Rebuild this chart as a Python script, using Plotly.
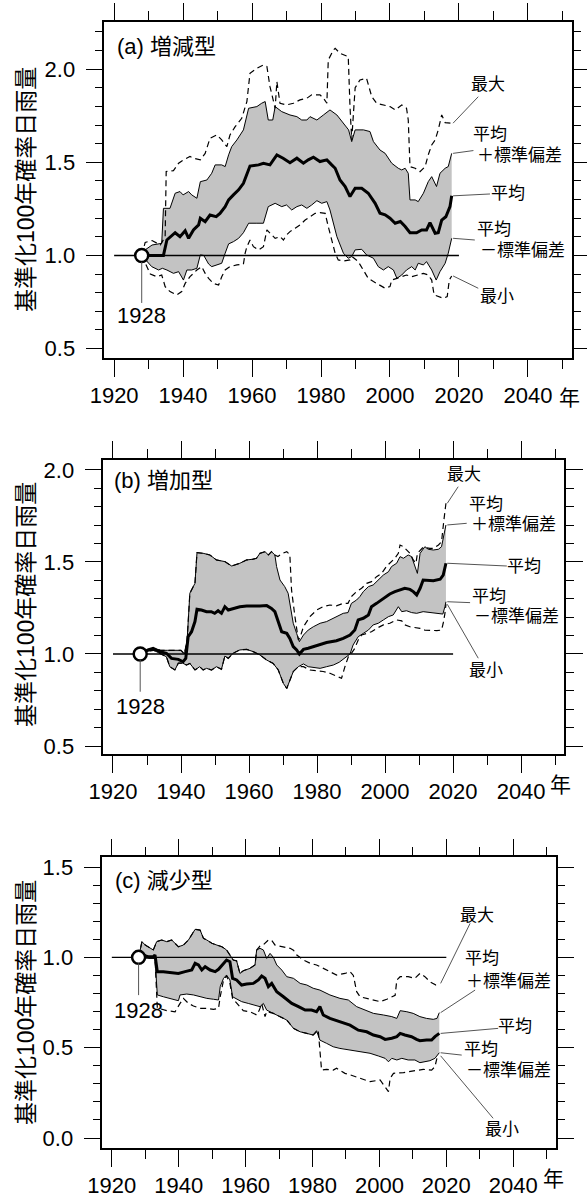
import plotly.graph_objects as go

W, H = 587, 1198

# ---------------- data (year, value) ----------------
BASE_YEAR = 1928
REF_LEVEL = 1.0
REF_SPAN = [1920, 2020]

A_MEAN = [(1928,1.0),(1934.3,1.0),(1935.3,1.083),(1937.7,1.122),(1939.1,1.101),(1940.6,1.133),(1941.6,1.092),(1943,1.137),(1944.5,1.164),(1945,1.2),(1946.4,1.181),(1947.8,1.217),(1949.6,1.208),(1950.7,1.226),(1952.2,1.262),(1953.2,1.298),(1954.6,1.325),(1956.1,1.352),(1957.5,1.387),(1958.5,1.441),(1959.4,1.48),(1961.9,1.486),(1963.3,1.495),(1965.2,1.486),(1967.2,1.54),(1969,1.522),(1971,1.498),(1973,1.522),(1974.9,1.495),(1976.3,1.513),(1977.8,1.527),(1979.7,1.504),(1981.7,1.513),(1983.1,1.486),(1984.1,1.468),(1985.5,1.405),(1987,1.37),(1988.4,1.316),(1989.9,1.361),(1991.8,1.361),(1993.7,1.334),(1995.7,1.28),(1997.1,1.227),(1998.6,1.218),(2000,1.2),(2001.5,1.173),(2003,1.182),(2004.4,1.155),(2005.8,1.122),(2007.7,1.122),(2009.2,1.137),(2010.6,1.137),(2011.6,1.176),(2013.1,1.119),(2014,1.122),(2015,1.19),(2016.2,1.208),(2017.4,1.262),(2017.9,1.32)]
A_UP = [(1928,1.0),(1929,1.03),(1931,1.056),(1933.8,1.065),(1934.3,1.253),(1936.2,1.253),(1937.7,1.334),(1939.1,1.343),(1940,1.325),(1941.6,1.343),(1942.5,1.325),(1944,1.307),(1945,1.396),(1946.9,1.405),(1948.3,1.441),(1949.3,1.486),(1951.2,1.486),(1952.2,1.477),(1953.2,1.54),(1954.1,1.584),(1955.6,1.62),(1957.5,1.674),(1959,1.79),(1961.4,1.799),(1962.8,1.817),(1963.8,1.826),(1964.7,1.727),(1966,1.727),(1966.7,1.799),(1968.6,1.772),(1971,1.754),(1973,1.745),(1974.4,1.727),(1975.9,1.727),(1976.8,1.745),(1978.8,1.727),(1980.7,1.754),(1982.6,1.781),(1984.6,1.754),(1986.5,1.71),(1988,1.674),(1988.9,1.611),(1989.9,1.674),(1992.3,1.674),(1994.2,1.665),(1995.2,1.611),(1997.1,1.566),(1998.6,1.548),(2000.5,1.495),(2002.4,1.468),(2003.4,1.459),(2004.4,1.468),(2005.3,1.441),(2005.8,1.298),(2007.3,1.298),(2008.2,1.289),(2009.7,1.334),(2011.1,1.396),(2012.1,1.423),(2013.5,1.37),(2014.5,1.441),(2016,1.468),(2016.9,1.477),(2017.9,1.548)]
A_LO = [(1928,1.0),(1929.5,0.967),(1930.9,0.94),(1932.9,0.922),(1934,0.931),(1935.3,0.922),(1937.2,0.904),(1938.7,0.913),(1940.1,0.868),(1941.1,0.922),(1942.5,0.922),(1944,0.931),(1945,1.003),(1946,1.0),(1947.4,0.954),(1948.3,0.94),(1949.8,0.949),(1951.2,0.958),(1952.2,1.012),(1953.2,1.062),(1954.6,1.074),(1956.1,1.092),(1957.5,1.122),(1959,1.173),(1961.4,1.173),(1963.3,1.173),(1964.7,1.262),(1966.7,1.28),(1968.6,1.262),(1970,1.271),(1971.5,1.244),(1973,1.262),(1974.4,1.271),(1975.9,1.253),(1977.3,1.271),(1978.8,1.294),(1980.2,1.28),(1981.7,1.289),(1982.6,1.244),(1984.6,1.101),(1986.5,1.012),(1987.9,0.985),(1988.9,0.994),(1989.9,1.03),(1991.8,1.033),(1993.2,1.003),(1995.2,0.985),(1996.6,0.94),(1998.1,0.922),(1999.5,0.94),(2001,0.922),(2002,0.877),(2003.4,0.895),(2004.8,0.922),(2006.3,0.94),(2007.3,0.922),(2008.2,0.958),(2009.7,0.949),(2010.6,0.967),(2012.1,0.922),(2013.4,0.868),(2014.5,0.913),(2016,0.958),(2016.9,1.012),(2017.9,1.092)]
A_MAX = [(1928,1.0),(1929,1.07),(1931,1.08),(1933.4,1.056),(1934.8,1.101),(1935.1,1.45),(1937.2,1.455),(1938.7,1.495),(1940.1,1.513),(1942,1.531),(1943,1.522),(1945,1.513),(1946.4,1.548),(1947.8,1.629),(1949.8,1.647),(1951.2,1.62),(1952.7,1.584),(1953.6,1.647),(1955.1,1.691),(1957,1.736),(1958.5,1.826),(1959.4,1.978),(1961.4,2.005),(1963.3,2.022),(1964.3,2.014),(1965.2,1.906),(1966.7,1.79),(1967.2,1.933),(1968.1,1.817),(1970,1.808),(1972,1.817),(1973.9,1.835),(1975.9,1.844),(1977.3,1.862),(1979.7,1.862),(1980.7,1.844),(1981.7,1.817),(1982.1,2.049),(1983.6,2.103),(1984.1,2.112),(1985.5,2.085),(1987.9,2.067),(1988.4,1.8),(1988.9,1.62),(1989.9,1.9),(1991.3,1.942),(1993.2,1.951),(1994.7,1.853),(1996.1,1.817),(1998.1,1.808),(2000,1.799),(2001.5,1.781),(2003.4,1.808),(2004.8,1.79),(2005.3,1.727),(2005.8,1.477),(2007.3,1.468),(2008.7,1.45),(2010.2,1.477),(2011.1,1.54),(2012.1,1.593),(2013.1,1.62),(2014,1.674),(2015,1.754),(2016,1.713),(2017.9,1.71)]
A_MIN = [(1928,1.0),(1929.5,0.94),(1930.5,0.9),(1932.4,0.886),(1933.8,0.895),(1934.8,0.833),(1936.2,0.806),(1938.2,0.788),(1939.6,0.806),(1940.6,0.85),(1942,0.886),(1943,0.904),(1944,0.922),(1945.4,0.94),(1946.4,0.904),(1947.4,0.877),(1948.8,0.85),(1950.3,0.841),(1951.2,0.886),(1952.2,0.922),(1953.6,0.94),(1955.6,0.949),(1957.5,0.954),(1958,1.012),(1958.5,1.047),(1959.4,1.083),(1960.4,1.047),(1961.9,1.03),(1963.3,1.047),(1964.3,1.137),(1965.2,1.119),(1966.7,1.092),(1968.1,1.101),(1969.1,1.083),(1970,1.11),(1971,1.128),(1972.5,1.146),(1973.9,1.164),(1975.4,1.19),(1976.8,1.208),(1978.3,1.226),(1979.7,1.23),(1981.2,1.226),(1982.1,1.155),(1983.1,1.083),(1984.1,1.012),(1985,0.976),(1986.5,0.97),(1988.4,0.976),(1989,0.994),(1990.8,0.967),(1992.3,0.922),(1993.7,0.877),(1995.2,0.86),(1997.1,0.841),(1998.6,0.824),(2000,0.833),(2000.5,0.868),(2002,0.877),(2003.4,0.886),(2004.8,0.895),(2006.3,0.886),(2007.7,0.895),(2009.7,0.904),(2011.1,0.895),(2012.1,0.868),(2012.8,0.788),(2014,0.779),(2015.5,0.77),(2016.6,0.779),(2017.2,0.868),(2017.9,0.89)]

B_MEAN = [(1928,1.0),(1930.3,1.022),(1931.8,1.031),(1933.8,1.013),(1935.7,1.004),(1937.2,0.976),(1939.2,0.971),(1940.6,0.958),(1941.4,0.976),(1942.1,1.094),(1943.1,1.121),(1944.1,1.176),(1944.7,1.243),(1946,1.239),(1947.5,1.23),(1948.9,1.23),(1949.9,1.221),(1950.9,1.235),(1951.9,1.221),(1952.9,1.257),(1953.9,1.239),(1955.3,1.248),(1957.3,1.257),(1959.3,1.261),(1961.2,1.263),(1963.2,1.261),(1965.2,1.263),(1966.6,1.248),(1967.6,1.23),(1968.6,1.176),(1969.6,1.121),(1971.1,1.112),(1972,1.085),(1973,1.04),(1974,1.022),(1974.8,1.0),(1976,1.025),(1977.4,1.031),(1978.9,1.04),(1980.9,1.049),(1982.8,1.062),(1985.7,1.072),(1987.7,1.085),(1989.7,1.103),(1991.1,1.13),(1992.1,1.185),(1993.6,1.194),(1995.1,1.212),(1996,1.257),(1997.5,1.275),(1999,1.293),(2000.5,1.312),(2001.4,1.326),(2002.9,1.339),(2004.4,1.348),(2005.8,1.357),(2007.3,1.351),(2008.3,1.339),(2009.3,1.321),(2010.3,1.357),(2011.2,1.402),(2012.7,1.402),(2014.2,1.398),(2016.2,1.406),(2017.1,1.429),(2017.9,1.493)]
B_UP = [(1928,1.0),(1930.3,1.025),(1932,1.03),(1934,1.02),(1936,1.02),(1938,1.02),(1940,1.02),(1941,1.0),(1941.8,1.076),(1942.6,1.33),(1944.1,1.384),(1944.7,1.551),(1946.5,1.547),(1948.5,1.538),(1950.4,1.511),(1952.9,1.502),(1954.9,1.478),(1957.3,1.493),(1959.3,1.511),(1961.2,1.515),(1962.2,1.52),(1963.2,1.547),(1964.7,1.556),(1965.7,1.538),(1966.6,1.556),(1967.6,1.538),(1968.1,1.475),(1969.1,1.402),(1970.5,1.366),(1971.5,1.33),(1972,1.275),(1973,1.167),(1974,1.112),(1974.8,1.067),(1976,1.103),(1977.4,1.13),(1978.9,1.148),(1980.9,1.167),(1982.8,1.176),(1984.8,1.194),(1985.7,1.203),(1987.7,1.221),(1989.1,1.225),(1990.1,1.275),(1991.6,1.293),(1992.6,1.312),(1993.6,1.339),(1995.1,1.366),(1996.5,1.375),(1998,1.402),(1999.5,1.429),(2001,1.447),(2001.9,1.475),(2003.4,1.493),(2004.4,1.529),(2005.4,1.52),(2006.8,1.538),(2007.8,1.529),(2008.8,1.475),(2009.5,1.438),(2010.3,1.547),(2011.7,1.583),(2012.7,1.569),(2014.2,1.565),(2015.7,1.569),(2016.6,1.583),(2017.6,1.674),(2017.9,1.701)]
B_LO = [(1928,1.0),(1930,1.015),(1932,1.02),(1934,1.0),(1935.7,0.985),(1936.7,0.931),(1938.2,0.913),(1939.2,0.95),(1940.5,0.95),(1941.6,0.94),(1942.6,0.949),(1944.1,0.913),(1945.5,0.931),(1946.5,0.913),(1947.5,0.922),(1949,0.913),(1950.4,0.931),(1951.9,0.917),(1952.9,0.989),(1953.9,0.976),(1955.3,1.004),(1957.3,1.022),(1959.3,1.025),(1961.2,1.013),(1963.2,0.995),(1965.2,0.967),(1967.1,0.949),(1968.6,0.913),(1970.1,0.84),(1971.1,0.813),(1972,0.859),(1973,0.904),(1974.5,0.931),(1976,0.946),(1977.4,0.931),(1978.9,0.928),(1980.9,0.922),(1982.8,0.931),(1984.8,0.94),(1986.5,0.955),(1988,0.975),(1989.7,1.0),(1990.6,1.049),(1992.1,1.094),(1993.6,1.112),(1995.1,1.13),(1996.5,1.158),(1998,1.167),(1999.5,1.185),(2001,1.203),(2002.4,1.212),(2003.9,1.257),(2004.9,1.23),(2006.3,1.235),(2007.8,1.225),(2009.3,1.221),(2011.2,1.23),(2013.2,1.225),(2015.2,1.221),(2017,1.217),(2017.6,1.257),(2017.9,1.284)]
B_MAX = [(1928,1.0),(1930.3,1.025),(1932,1.03),(1934,1.02),(1936,1.02),(1938,1.02),(1940,1.02),(1941,1.0),(1941.8,1.076),(1942.6,1.33),(1944.1,1.384),(1944.7,1.551),(1946.5,1.547),(1948.5,1.538),(1950.4,1.511),(1952.9,1.502),(1954.9,1.478),(1957.3,1.493),(1959.3,1.511),(1961.2,1.515),(1962.2,1.52),(1963.2,1.547),(1964.7,1.556),(1965.7,1.538),(1966.6,1.556),(1967.6,1.538),(1968.5,1.53),(1969.9,1.547),(1971.1,1.556),(1972,1.54),(1972.5,1.348),(1973.5,1.203),(1974.5,1.076),(1975,1.09),(1976,1.148),(1977.9,1.203),(1979.9,1.239),(1981.8,1.257),(1983.8,1.266),(1985.7,1.262),(1987.7,1.275),(1989.1,1.275),(1990.1,1.312),(1991.6,1.339),(1993.1,1.357),(1994.6,1.384),(1996,1.393),(1997.5,1.42),(1999,1.438),(2000.5,1.478),(2001.4,1.493),(2002.9,1.52),(2003.9,1.547),(2004.4,1.592),(2005.4,1.583),(2006.3,1.565),(2007.3,1.547),(2008.3,1.511),(2009.1,1.493),(2009.5,1.547),(2010.3,1.565),(2011.2,1.58),(2013.2,1.574),(2014.2,1.574),(2015.7,1.592),(2016.6,1.61),(2017.3,1.728),(2017.9,1.819)]
B_MIN = [(1928,1.0),(1930,1.015),(1932,1.02),(1934,1.0),(1935.7,0.985),(1936.7,0.931),(1938.2,0.913),(1939.2,0.95),(1940.5,0.95),(1941.6,0.94),(1942.6,0.949),(1944.1,0.913),(1945.5,0.931),(1946.5,0.913),(1947.5,0.922),(1949,0.913),(1950.4,0.931),(1951.9,0.917),(1952.9,0.989),(1953.9,0.976),(1955.3,1.004),(1957.3,1.022),(1959.3,1.025),(1961.2,1.013),(1963.2,0.995),(1965.2,0.967),(1967.1,0.949),(1968.6,0.913),(1970.1,0.84),(1971.1,0.813),(1972,0.859),(1973,0.904),(1974.5,0.931),(1976,0.931),(1977.9,0.913),(1979.9,0.909),(1981.8,0.905),(1983.8,0.895),(1985.8,0.88),(1987.2,0.868),(1988.2,0.931),(1989.2,0.985),(1990.1,1.004),(1991.1,1.031),(1992.1,1.076),(1993.1,1.103),(1994.6,1.112),(1996,1.121),(1997.5,1.139),(1999.5,1.158),(2001.4,1.167),(2003.4,1.185),(2004.9,1.18),(2005.8,1.158),(2007.3,1.148),(2008.8,1.145),(2010.3,1.139),(2011.7,1.13),(2013.2,1.127),(2015.2,1.127),(2016.6,1.13),(2017.1,1.167),(2017.6,1.221),(2017.9,1.27)]

C_MEAN = [(1928,1.0),(1929.4,1.013),(1931,1.003),(1932.4,1.003),(1932.9,1.013),(1933.6,0.921),(1935.4,0.921),(1937.4,0.915),(1939.9,0.911),(1941.9,0.921),(1943.9,0.93),(1944.9,0.967),(1945.9,0.958),(1946.9,0.93),(1947.9,0.948),(1949.4,0.93),(1950.9,0.921),(1951.9,0.934),(1952.9,0.958),(1954.3,0.985),(1955.3,0.976),(1956.1,0.884),(1957.3,0.875),(1958.8,0.847),(1960.3,0.852),(1962.3,0.856),(1963.8,0.875),(1964.8,0.897),(1965.8,0.884),(1966.8,0.838),(1967.8,0.856),(1969.3,0.81),(1971.3,0.782),(1973.8,0.745),(1975.8,0.727),(1977.8,0.708),(1979.7,0.708),(1981.2,0.699),(1982.2,0.727),(1983.2,0.681),(1985.2,0.662),(1988.2,0.644),(1991.2,0.625),(1993.7,0.597),(1996.2,0.588),(1998.2,0.57),(2000.2,0.561),(2001.7,0.546),(2003.7,0.552),(2005.2,0.561),(2006.2,0.579),(2007.6,0.57),(2009.6,0.561),(2011.1,0.546),(2012.1,0.539),(2014.1,0.542),(2015.6,0.542),(2016.6,0.561),(2017.9,0.579)]
C_UP = [(1928,1.0),(1929,1.087),(1930,1.068),(1931.4,1.05),(1932.4,1.041),(1933.4,1.087),(1934.9,1.096),(1936.4,1.087),(1937.9,1.096),(1939.9,1.059),(1941.4,1.068),(1942.9,1.096),(1943.9,1.124),(1944.9,1.155),(1946.4,1.151),(1947.4,1.105),(1948.4,1.096),(1949.9,1.078),(1951.4,1.068),(1952.9,1.059),(1954.3,1.041),(1955.3,1.013),(1956.3,0.985),(1957.3,0.981),(1958.3,0.911),(1959.3,0.926),(1961.3,0.939),(1962.8,0.958),(1963.3,1.041),(1964.3,1.05),(1965.3,1.041),(1966.3,0.994),(1967.3,1.022),(1968.3,1.0),(1969.3,0.958),(1970.8,0.93),(1972.3,0.893),(1974.3,0.884),(1976.3,0.856),(1978.3,0.847),(1980.2,0.829),(1982.2,0.819),(1984.2,0.801),(1985.2,0.792),(1988.2,0.773),(1990.7,0.764),(1993.2,0.727),(1995.7,0.708),(1998.2,0.69),(2001.2,0.681),(2003.7,0.672),(2005.2,0.662),(2006.2,0.705),(2008.2,0.699),(2010.1,0.69),(2012.1,0.672),(2014.1,0.662),(2016.1,0.657),(2017.2,0.662),(2017.9,0.694)]
C_LO = [(1928,1.0),(1930,0.995),(1932.9,0.995),(1933.6,0.792),(1935.4,0.782),(1937.4,0.773),(1939.9,0.76),(1940.4,0.792),(1942.4,0.797),(1944.4,0.792),(1946.4,0.782),(1948.4,0.773),(1950.4,0.768),(1951.9,0.764),(1952.4,0.838),(1953.4,0.884),(1954.3,0.902),(1955.3,0.875),(1956.1,0.782),(1957.3,0.768),(1958.8,0.755),(1960.8,0.745),(1962.8,0.736),(1964.3,0.727),(1965.3,0.745),(1966.3,0.708),(1968.3,0.69),(1970.3,0.672),(1972.3,0.653),(1974.3,0.607),(1976.3,0.588),(1978.3,0.579),(1980.2,0.57),(1981.2,0.594),(1982.2,0.542),(1984.2,0.524),(1986.2,0.505),(1988.2,0.496),(1991.2,0.487),(1994.2,0.478),(1997.2,0.469),(1999.7,0.454),(2001.7,0.441),(2002.7,0.422),(2003.7,0.441),(2005.2,0.432),(2006.7,0.441),(2008.6,0.432),(2010.6,0.432),(2012.1,0.417),(2013.6,0.422),(2015.1,0.428),(2016.6,0.441),(2017.9,0.472)]
C_MAX = [(1928,1.0),(1929,1.087),(1930,1.068),(1931.4,1.05),(1932.4,1.041),(1933.4,1.087),(1934.9,1.096),(1936.4,1.087),(1937.9,1.096),(1939.9,1.059),(1941.4,1.068),(1942.9,1.096),(1943.9,1.124),(1944.9,1.155),(1946.4,1.151),(1947.4,1.105),(1948.4,1.096),(1949.9,1.078),(1951.4,1.068),(1952.9,1.059),(1954.3,1.041),(1955.3,1.013),(1956.3,0.985),(1957.3,0.981),(1958.3,0.911),(1959.3,0.926),(1961.3,0.939),(1962.8,0.958),(1963.3,1.041),(1964.3,1.063),(1965.3,1.07),(1966.8,1.096),(1967.8,1.094),(1968.8,1.068),(1970.8,1.059),(1973.3,1.05),(1974.3,1.04),(1975.3,1.013),(1977.3,0.985),(1979.3,0.967),(1981.2,0.958),(1983.2,0.939),(1985.2,0.921),(1987.2,0.902),(1989.7,0.911),(1991.2,0.921),(1992.2,0.9),(1993.2,0.81),(1994.2,0.782),(1996.2,0.773),(1998.2,0.76),(2000.2,0.755),(2002.2,0.768),(2003.7,0.782),(2004.7,0.79),(2005.2,0.875),(2006.2,0.893),(2008.6,0.893),(2010.6,0.884),(2012.1,0.911),(2013.6,0.893),(2015.1,0.865),(2016.9,0.847),(2017.9,0.856)]
C_MIN = [(1928,1.0),(1930,0.995),(1932.9,0.995),(1933.6,0.72),(1936.4,0.705),(1938.9,0.699),(1940.4,0.745),(1941.4,0.773),(1942.9,0.745),(1944.4,0.731),(1946.4,0.718),(1948.4,0.718),(1950.4,0.712),(1951.9,0.718),(1952.4,0.782),(1953.4,0.875),(1954.3,0.897),(1955.3,0.856),(1956.1,0.773),(1957.3,0.745),(1959.3,0.705),(1961.3,0.699),(1963.3,0.681),(1964.1,0.708),(1964.8,0.745),(1965.8,0.672),(1966.3,0.7),(1968.3,0.69),(1970.3,0.672),(1972.3,0.653),(1974.3,0.607),(1976.3,0.588),(1978.3,0.579),(1980.2,0.57),(1981.7,0.598),(1982.2,0.487),(1982.7,0.376),(1984.2,0.38),(1986.2,0.376),(1987.2,0.386),(1989.7,0.358),(1991.2,0.35),(1994.2,0.33),(1997.2,0.312),(2000.2,0.321),(2002.2,0.275),(2002.7,0.257),(2003.2,0.33),(2004.2,0.358),(2007.2,0.362),(2010.1,0.371),(2013.1,0.38),(2015.6,0.376),(2016.6,0.395),(2017.3,0.45),(2017.9,0.455)]

PANEL_TITLES = ["(a) 増減型", "(b) 増加型", "(c) 減少型"]
LABEL_MAX, LABEL_MEAN, LABEL_MIN = "最大", "平均", "最小"
LABEL_PLUS, LABEL_MINUS = "＋標準偏差", "－標準偏差"
Y_TITLE = "基準化100年確率日雨量"
X_UNIT = "年"

# ---------------- layout / style ----------------
FONT = "Liberation Sans, Arial, Noto Sans CJK JP, sans-serif"
XR = [1917.15, 2052.7]
PANELS = [
    dict(data=(A_MEAN, A_UP, A_LO, A_MAX, A_MIN), px=(104.3, 571.7), py=(22, 358.3), yr=[0.448, 2.253],
         title_px=(115, 47), ytitle_py=190, unit_px=(569, 397),
         base_line=(0.965, 0.745), base_lab=0.677,
         lab=dict(mx=((2028.4, 1.915), (2025.6, 1.852)),
                  up=((2029.0, 1.647), (2037.7, 1.539), (2024.2, 1.563)),
                  mean=((2034.2, 1.33), (2029.0, 1.33)),
                  lo=((2030.2, 1.137), (2038.4, 1.026), (2024.6, 1.083)),
                  mn=((2030.9, 0.779), (2025.6, 0.824)))),
    dict(data=(B_MEAN, B_UP, B_LO, B_MAX, B_MIN), px=(103.3, 564.3), py=(460, 754.3), yr=[0.455, 2.054],
         title_px=(111.7, 480.7), ytitle_py=605, unit_px=(560, 784),
         base_line=(0.967, 0.795), base_lab=0.714,
         lab=dict(mx=((2023.2, 1.973), (2021.5, 1.909)),
                  up=((2029.6, 1.81), (2037.9, 1.701), (2024.0, 1.71)),
                  mean=((2040.9, 1.478), (2035.8, 1.478)),
                  lo=((2030.6, 1.311), (2038.7, 1.203), (2025.0, 1.279)),
                  mn=((2029.7, 0.913), (2027.4, 0.977)))),
    dict(data=(C_MEAN, C_UP, C_LO, C_MAX, C_MIN), px=(102.3, 555.7), py=(857.3, 1148.3), yr=[-0.057, 1.554],
         title_px=(113.3, 880.7), ytitle_py=1003, unit_px=(553, 1178),
         base_line=(0.967, 0.791), base_lab=0.708,
         lab=dict(mx=((2029.1, 1.234), (2027.1, 1.188)),
                  up=((2030.6, 0.994), (2038.7, 0.865), (2028.6, 0.819)),
                  mean=((2040.5, 0.616), (2035.5, 0.607)),
                  lo=((2030.3, 0.491), (2038.7, 0.376), (2024.6, 0.459)),
                  mn=((2036.6, 0.048), (2034.0, 0.109)))),
]

FILL = "#c3c3c3"
LEADER = "#555555"
DASH = "6px,4px"


def unz(pairs):
    return [p[0] for p in pairs], [p[1] for p in pairs]


fig = go.Figure()
shapes, annotations = [], []
layout = dict(width=W, height=H, autosize=False, margin=dict(l=0, r=0, t=0, b=0, autoexpand=False),
              paper_bgcolor="white", plot_bgcolor="white", showlegend=False,
              font=dict(family=FONT, color="black"))

for i, P in enumerate(PANELS):
    sfx = "" if i == 0 else str(i + 1)
    xa, ya = "x" + sfx, "y" + sfx
    mean, up, lo, mx, mn = P["data"]
    ux, uy = unz(up)
    lx, ly = unz(lo)
    fig.add_trace(go.Scatter(x=ux + lx[::-1], y=uy + ly[::-1], fill="toself", fillcolor=FILL,
                             mode="lines", line=dict(width=0), hoverinfo="skip", xaxis=xa, yaxis=ya))
    fig.add_trace(go.Scatter(x=REF_SPAN, y=[REF_LEVEL] * 2, mode="lines",
                             line=dict(color="black", width=1.4), xaxis=xa, yaxis=ya))
    for s in (up, lo):
        sx, sy = unz(s)
        fig.add_trace(go.Scatter(x=sx, y=sy, mode="lines", line=dict(color="black", width=1),
                                 xaxis=xa, yaxis=ya))
    for s in (mx, mn):
        sx, sy = unz(s)
        fig.add_trace(go.Scatter(x=sx, y=sy, mode="lines",
                                 line=dict(color="black", width=1.2, dash=DASH), xaxis=xa, yaxis=ya))
    mxs, mys = unz(mean)
    fig.add_trace(go.Scatter(x=mxs, y=mys, mode="lines", line=dict(color="black", width=3),
                             xaxis=xa, yaxis=ya))
    fig.add_trace(go.Scatter(x=[BASE_YEAR], y=[REF_LEVEL], mode="markers",
                             marker=dict(size=13, color="white", line=dict(color="black", width=2.5)),
                             xaxis=xa, yaxis=ya))

    x0, x1 = P["px"]
    y0, y1 = P["py"]
    axcommon = dict(showgrid=False, zeroline=False, showline=True, linecolor="black", linewidth=1.5,
                    ticks="outside", tickwidth=1.3, tickcolor="black", mirror="allticks",
                    automargin=False,
                    tickfont=dict(family=FONT, size=22, color="black"), fixedrange=True)
    layout["xaxis" + sfx] = dict(axcommon, domain=[x0 / W, x1 / W], range=XR, anchor=ya,
                                 tickmode="linear", tick0=1920, dtick=20, ticklen=17,
                                 minor=dict(ticks="outside", tick0=1920, dtick=10, ticklen=9,
                                            tickwidth=1.3, tickcolor="black", showgrid=False))
    layout["yaxis" + sfx] = dict(axcommon, domain=[1 - y1 / H, 1 - y0 / H], range=P["yr"], anchor=xa,
                                 tickmode="linear", tick0=0, dtick=0.5, ticklen=17, tickformat=".1f",
                                 ticklabelstandoff=6,
                                 minor=dict(ticks="outside", tick0=0, dtick=0.1, ticklen=8,
                                            tickwidth=1.3, tickcolor="black", showgrid=False))

    annotations.append(dict(text=PANEL_TITLES[i], xref="paper", yref="paper",
                            x=P["title_px"][0] / W, y=1 - P["title_px"][1] / H,
                            xanchor="left", yanchor="middle", showarrow=False,
                            font=dict(family=FONT, size=22)))
    annotations.append(dict(text=Y_TITLE, xref="paper", yref="paper", x=26 / W, y=1 - P["ytitle_py"] / H,
                            xanchor="center", yanchor="middle", textangle=-90, showarrow=False,
                            font=dict(family=FONT, size=23)))
    annotations.append(dict(text=X_UNIT, xref="paper", yref="paper", x=P["unit_px"][0] / W,
                            y=1 - P["unit_px"][1] / H, xanchor="center", yanchor="middle",
                            showarrow=False, font=dict(family=FONT, size=21)))

    bl0, bl1 = P["base_line"]
    shapes.append(dict(type="line", xref=xa, yref=ya, x0=BASE_YEAR, x1=BASE_YEAR, y0=bl0, y1=bl1,
                       line=dict(color=LEADER, width=1)))
    annotations.append(dict(text=str(BASE_YEAR), xref=xa, yref=ya, x=BASE_YEAR, y=P["base_lab"],
                            xanchor="center", yanchor="middle", showarrow=False,
                            font=dict(family=FONT, size=22)))

    lab = P["lab"]
    end_x = {"mx": mx[-1], "up": up[-1], "mean": mean[-1], "lo": lo[-1], "mn": mn[-1]}
    lf = dict(family=FONT, size=17)

    def leader(key, tx, ty):
        sx, sy = end_x[key]
        shapes.append(dict(type="line", xref=xa, yref=ya, x0=sx + 0.4, y0=sy, x1=tx, y1=ty,
                           line=dict(color=LEADER, width=1)))

    def txt(s, pos):
        annotations.append(dict(text=s, xref=xa, yref=ya, x=pos[0], y=pos[1], xanchor="center",
                                yanchor="middle", showarrow=False, font=lf))

    txt(LABEL_MAX, lab["mx"][0]); leader("mx", *lab["mx"][1])
    txt(LABEL_MEAN, lab["up"][0]); txt(LABEL_PLUS, lab["up"][1]); leader("up", *lab["up"][2])
    txt(LABEL_MEAN, lab["mean"][0]); leader("mean", *lab["mean"][1])
    txt(LABEL_MEAN, lab["lo"][0]); txt(LABEL_MINUS, lab["lo"][1]); leader("lo", *lab["lo"][2])
    txt(LABEL_MIN, lab["mn"][0]); leader("mn", *lab["mn"][1])

layout["shapes"] = shapes
layout["annotations"] = annotations
fig.update_layout(**layout)
fig.write_html("out.html", config={"displayModeBar": False},
               post_script="document.body.style.margin='0';"
                           "document.documentElement.style.overflow='hidden';")
